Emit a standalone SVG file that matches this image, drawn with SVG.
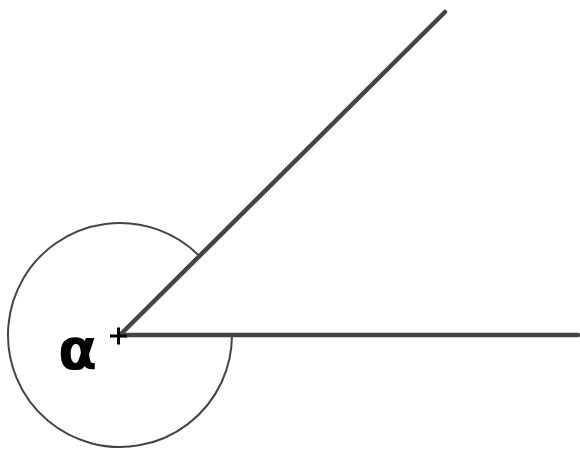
<svg xmlns="http://www.w3.org/2000/svg" width="580" height="451" viewBox="0 0 580 451">
<style>
.ray{stroke:#444;stroke-width:4.5;stroke-linecap:round;fill:none}
.arc{stroke:#444;stroke-width:2;fill:none}
.lbl{font-family:"DejaVu Sans","Liberation Sans",sans-serif;font-weight:bold;fill:#000}
</style>
<rect width="580" height="451" fill="#fff"/>
<g id="angle-arc">
<path class="arc" d="M 232 335 A 112 112 0 1 1 199.2 255.8"/>
</g>
<g id="connectors">
<line class="ray" x1="120" y1="335" x2="445" y2="12"/>
<line class="ray" x1="120" y1="335" x2="578" y2="335"/>
</g>
<g id="vertex">
<path d="M110 336 H127 M118.5 327.5 V344.5" stroke="#000" stroke-width="3" fill="none"/>
</g>
<g id="label-alpha">
<text class="lbl" x="77.5" y="368.5" font-size="57" text-anchor="middle">α</text>
</g>
</svg>
